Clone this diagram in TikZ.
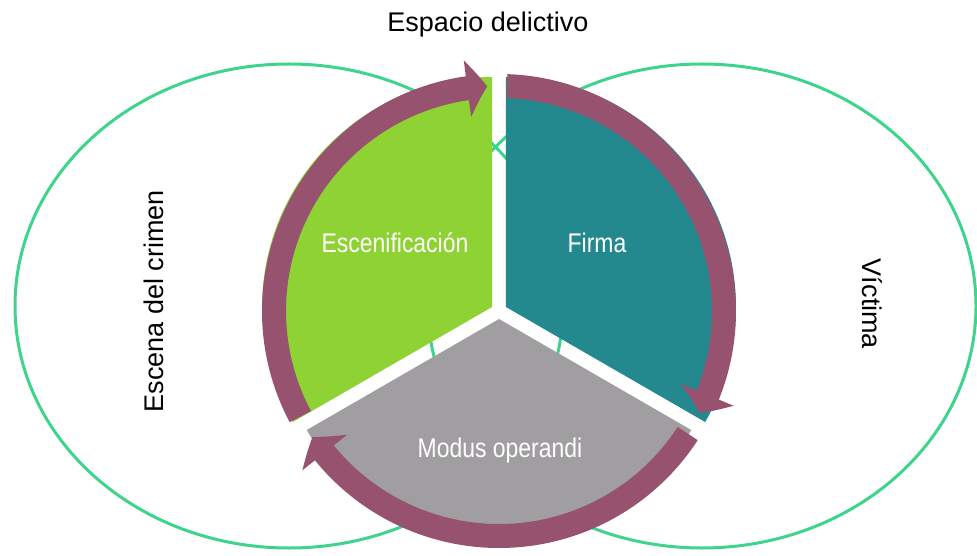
\documentclass[tikz,border=0pt]{standalone}
\usepackage{fontspec}
\setmainfont{Liberation Sans}
\newfontfamily\condfont[FakeStretch=0.85]{Liberation Sans}
\usetikzlibrary{arrows.meta, bending}
\definecolor{ringline}{RGB}{62,212,140}
\definecolor{escgreen}{RGB}{143,210,52}
\definecolor{firmteal}{RGB}{36,137,143}
\definecolor{modgray}{RGB}{160,158,160}
\definecolor{turnmauve}{RGB}{150,82,110}

\begin{document}
\begin{tikzpicture}[x=1pt, y=1pt, ring/.style={draw=ringline, line width=3pt}, turn/.style={draw=turnmauve, line width=24pt, -{Triangle[width=56pt, length=20pt, bend]}}, inner/.style={text=white, font=\condfont\fontsize{27}{30}\selectfont, anchor=base}, outer/.style={text=black, font=\fontsize{27}{30}\selectfont, anchor=base}]
  \useasboundingbox (0,0) rectangle (977,555);
  \coordinate (C) at (499,244);
  \coordinate (escena) at (289,249);
  \coordinate (victima) at (702,249);
  % the two spaces
  \draw[ring] (escena) ellipse [x radius=274, y radius=242];
  \draw[ring] (victima) ellipse [x radius=274, y radius=242];
  % three sectors
  \fill[escgreen] ([shift={(150:8)}]C) -- ++(90:230) arc[start angle=90, end angle=210, radius=230] -- cycle;
  \fill[firmteal] ([shift={(30:8)}]C) -- ++(90:230) arc[start angle=90, end angle=-30, radius=230] -- cycle;
  \fill[modgray] ([shift={(270:8)}]C) -- ++(-30:222) arc[start angle=-30, end angle=-150, radius=222] -- cycle;
  % arrows round the circle
  \draw[turn] ([shift={(208:225)}]C) arc[start angle=208, end angle=93, radius=225];
  \draw[turn] ([shift={(88:225)}]C) arc[start angle=88, end angle=-27, radius=225];
  \draw[turn] ([shift={(-33:225)}]C) arc[start angle=-33, end angle=-146, radius=225];
  % labels
  \node[outer] (espacio) at (488,523) {Espacio delictivo};
  \node[outer, rotate=90] (escena label) at (163,254) {Escena del crimen};
  \node[outer, rotate=-90] (victima label) at (862,251) {Víctima};
  \node[inner] (esc) at (395,302) {Escenificación};
  \node[inner] (firma) at (597,302) {Firma};
  \node[inner] (modus) at (500,98) {Modus operandi};
\end{tikzpicture}
\end{document}
